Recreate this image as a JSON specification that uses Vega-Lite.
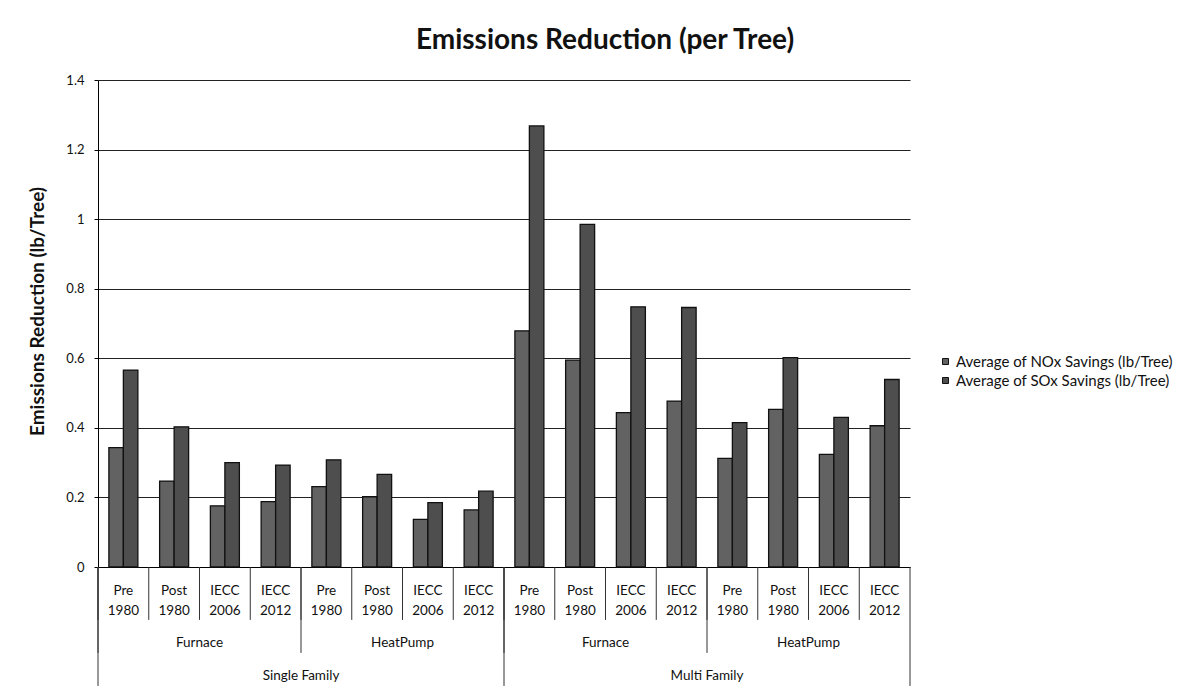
{
  "$schema": "https://vega.github.io/schema/vega-lite/v6.json",
  "autosize": {"type": "none"},
  "width": 812,
  "height": 487,
  "padding": {"left": 98, "top": 80, "right": 283, "bottom": 124},
  "background": "white",
  "config": {"font": "Lato", "view": {"stroke": null}},
  "title": {"text": "Emissions Reduction (per Tree)", "font": "Lato", "fontSize": 28, "fontWeight": "bold", "color": "#111", "anchor": "middle", "dx": 101, "offset": 19},
  "data": {"values": [
    {"cat": "Single Family|Furnace|Pre|1980", "family": "Single Family", "system": "Furnace", "period": "Pre 1980", "Average of NOx Savings (lb/Tree)": 0.343, "Average of SOx Savings (lb/Tree)": 0.566},
    {"cat": "Single Family|Furnace|Post|1980", "family": "Single Family", "system": "Furnace", "period": "Post 1980", "Average of NOx Savings (lb/Tree)": 0.247, "Average of SOx Savings (lb/Tree)": 0.403},
    {"cat": "Single Family|Furnace|IECC|2006", "family": "Single Family", "system": "Furnace", "period": "IECC 2006", "Average of NOx Savings (lb/Tree)": 0.176, "Average of SOx Savings (lb/Tree)": 0.300},
    {"cat": "Single Family|Furnace|IECC|2012", "family": "Single Family", "system": "Furnace", "period": "IECC 2012", "Average of NOx Savings (lb/Tree)": 0.188, "Average of SOx Savings (lb/Tree)": 0.293},
    {"cat": "Single Family|HeatPump|Pre|1980", "family": "Single Family", "system": "HeatPump", "period": "Pre 1980", "Average of NOx Savings (lb/Tree)": 0.231, "Average of SOx Savings (lb/Tree)": 0.308},
    {"cat": "Single Family|HeatPump|Post|1980", "family": "Single Family", "system": "HeatPump", "period": "Post 1980", "Average of NOx Savings (lb/Tree)": 0.202, "Average of SOx Savings (lb/Tree)": 0.266},
    {"cat": "Single Family|HeatPump|IECC|2006", "family": "Single Family", "system": "HeatPump", "period": "IECC 2006", "Average of NOx Savings (lb/Tree)": 0.137, "Average of SOx Savings (lb/Tree)": 0.185},
    {"cat": "Single Family|HeatPump|IECC|2012", "family": "Single Family", "system": "HeatPump", "period": "IECC 2012", "Average of NOx Savings (lb/Tree)": 0.164, "Average of SOx Savings (lb/Tree)": 0.218},
    {"cat": "Multi Family|Furnace|Pre|1980", "family": "Multi Family", "system": "Furnace", "period": "Pre 1980", "Average of NOx Savings (lb/Tree)": 0.679, "Average of SOx Savings (lb/Tree)": 1.268},
    {"cat": "Multi Family|Furnace|Post|1980", "family": "Multi Family", "system": "Furnace", "period": "Post 1980", "Average of NOx Savings (lb/Tree)": 0.595, "Average of SOx Savings (lb/Tree)": 0.985},
    {"cat": "Multi Family|Furnace|IECC|2006", "family": "Multi Family", "system": "Furnace", "period": "IECC 2006", "Average of NOx Savings (lb/Tree)": 0.444, "Average of SOx Savings (lb/Tree)": 0.748},
    {"cat": "Multi Family|Furnace|IECC|2012", "family": "Multi Family", "system": "Furnace", "period": "IECC 2012", "Average of NOx Savings (lb/Tree)": 0.477, "Average of SOx Savings (lb/Tree)": 0.746},
    {"cat": "Multi Family|HeatPump|Pre|1980", "family": "Multi Family", "system": "HeatPump", "period": "Pre 1980", "Average of NOx Savings (lb/Tree)": 0.312, "Average of SOx Savings (lb/Tree)": 0.415},
    {"cat": "Multi Family|HeatPump|Post|1980", "family": "Multi Family", "system": "HeatPump", "period": "Post 1980", "Average of NOx Savings (lb/Tree)": 0.453, "Average of SOx Savings (lb/Tree)": 0.602},
    {"cat": "Multi Family|HeatPump|IECC|2006", "family": "Multi Family", "system": "HeatPump", "period": "IECC 2006", "Average of NOx Savings (lb/Tree)": 0.324, "Average of SOx Savings (lb/Tree)": 0.430},
    {"cat": "Multi Family|HeatPump|IECC|2012", "family": "Multi Family", "system": "HeatPump", "period": "IECC 2012", "Average of NOx Savings (lb/Tree)": 0.406, "Average of SOx Savings (lb/Tree)": 0.539}
  ]},
  "layer": [
    {
      "transform": [{"fold": ["Average of NOx Savings (lb/Tree)", "Average of SOx Savings (lb/Tree)"], "as": ["series", "value"]}],
      "mark": {"type": "bar", "stroke": "#111", "strokeWidth": 1.3},
      "encoding": {
        "x": {"field": "cat", "type": "nominal", "sort": null,
              "scale": {"type": "band", "paddingInner": 0, "paddingOuter": 0},
              "axis": {"title": null, "labelExpr": "slice(split(datum.label, '|'), 2)", "labelAngle": 0, "ticks": false, "domainColor": "#000", "domainWidth": 1, "labelFont": "Lato", "labelFontSize": 13.5, "labelColor": "#111", "labelPadding": 16, "labelLineHeight": 20, "labelBaseline": "top"}},
        "xOffset": {"field": "series", "type": "nominal", "scale": {"paddingInner": 0, "paddingOuter": 0.75}},
        "y": {"field": "value", "type": "quantitative",
              "scale": {"domain": [0, 1.4], "nice": false, "zero": true},
              "axis": {"title": "Emissions Reduction (lb/Tree)", "titleFont": "Lato", "titleFontSize": 19, "titleFontWeight": "bold", "titleColor": "#111", "titleX": -61, "titleY": 231, "titleBaseline": "middle", "values": [0, 0.2, 0.4, 0.6, 0.8, 1, 1.2, 1.4], "format": "~g", "grid": true, "gridColor": "#222", "gridWidth": 1, "gridOpacity": 1, "domainColor": "#000", "tickColor": "#000", "tickSize": 4, "labelFont": "Lato", "labelFontSize": 13, "labelColor": "#111", "labelPadding": 10}},
        "color": {"field": "series", "type": "nominal",
                  "scale": {"domain": ["Average of NOx Savings (lb/Tree)", "Average of SOx Savings (lb/Tree)"], "range": ["#626262", "#4e4e4e"]},
                  "legend": {"title": null, "orient": "none", "legendX": 840, "legendY": 274, "symbolType": "square", "symbolSize": 36, "symbolStrokeColor": "#111", "symbolStrokeWidth": 1, "labelFont": "Lato", "labelFontSize": 15, "labelColor": "#111", "labelOffset": 3, "labelLimit": 0, "rowPadding": 3}}
      }
    },
    {
      "mark": {"type": "rule", "color": "#333", "strokeWidth": 1},
      "encoding": {
        "x": {"field": "cat", "type": "nominal", "sort": null, "bandPosition": 0, "scale": {"type": "band", "paddingInner": 0, "paddingOuter": 0}},
        "y": {"datum": 0, "type": "quantitative", "scale": {"domain": [0, 1.4], "nice": false}},
        "y2": {"datum": -0.152}
      }
    },
    {
      "transform": [{"filter": "datum.family == 'Multi Family' && datum.system == 'HeatPump' && datum.period == 'IECC 2012'"}],
      "mark": {"type": "rule", "color": "#333", "strokeWidth": 1},
      "encoding": {
        "x": {"field": "cat", "type": "nominal", "sort": null, "bandPosition": 1, "scale": {"type": "band", "paddingInner": 0, "paddingOuter": 0}},
        "y": {"datum": 0, "type": "quantitative", "scale": {"domain": [0, 1.4], "nice": false}},
        "y2": {"datum": -0.342}
      }
    },
    {
      "transform": [{"filter": "datum.period == 'Pre 1980'"}],
      "mark": {"type": "rule", "color": "#333", "strokeWidth": 1},
      "encoding": {
        "x": {"field": "cat", "type": "nominal", "sort": null, "bandPosition": 0, "scale": {"type": "band", "paddingInner": 0, "paddingOuter": 0}},
        "y": {"datum": 0, "type": "quantitative", "scale": {"domain": [0, 1.4], "nice": false}},
        "y2": {"datum": -0.247}
      }
    },
    {
      "transform": [{"filter": "datum.period == 'Pre 1980' && datum.system == 'Furnace'"}],
      "mark": {"type": "rule", "color": "#333", "strokeWidth": 1},
      "encoding": {
        "x": {"field": "cat", "type": "nominal", "sort": null, "bandPosition": 0, "scale": {"type": "band", "paddingInner": 0, "paddingOuter": 0}},
        "y": {"datum": 0, "type": "quantitative", "scale": {"domain": [0, 1.4], "nice": false}},
        "y2": {"datum": -0.342}
      }
    },
    {
      "transform": [{"filter": "datum.period == 'Post 1980'"}],
      "mark": {"type": "text", "font": "Lato", "fontSize": 13.5, "color": "#111", "baseline": "middle", "align": "center"},
      "encoding": {
        "x": {"field": "cat", "type": "nominal", "sort": null, "bandPosition": 1, "scale": {"type": "band", "paddingInner": 0, "paddingOuter": 0}},
        "y": {"datum": -0.218, "type": "quantitative", "scale": {"domain": [0, 1.4], "nice": false}},
        "text": {"field": "system"}
      }
    },
    {
      "transform": [{"filter": "datum.period == 'IECC 2012' && datum.system == 'Furnace'"}],
      "mark": {"type": "text", "font": "Lato", "fontSize": 13.5, "color": "#111", "baseline": "middle", "align": "center"},
      "encoding": {
        "x": {"field": "cat", "type": "nominal", "sort": null, "bandPosition": 1, "scale": {"type": "band", "paddingInner": 0, "paddingOuter": 0}},
        "y": {"datum": -0.313, "type": "quantitative", "scale": {"domain": [0, 1.4], "nice": false}},
        "text": {"field": "family"}
      }
    }
  ]
}
